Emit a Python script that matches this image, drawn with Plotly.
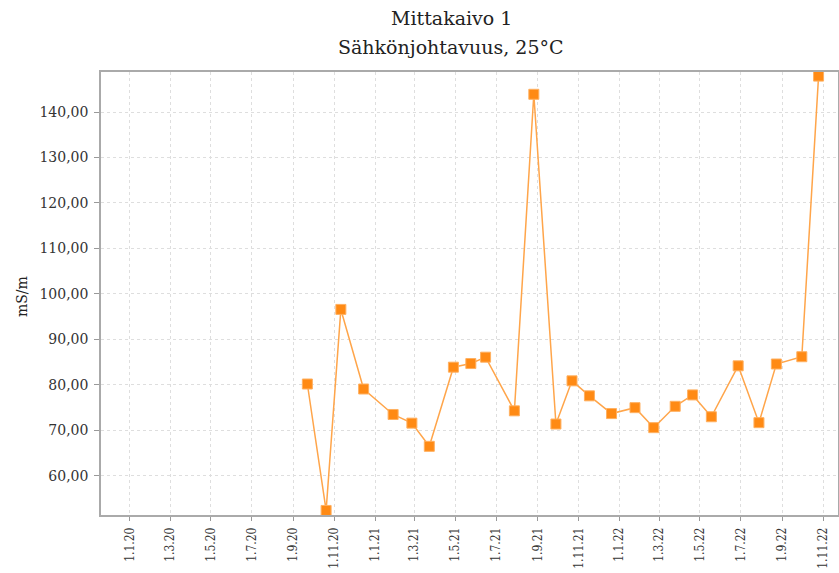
import plotly.graph_objects as go

dates = ["2020-09-22", "2020-10-20", "2020-11-11", "2020-12-15", "2021-01-28", "2021-02-25",
         "2021-03-23", "2021-04-28", "2021-05-24", "2021-06-15", "2021-07-28", "2021-08-26",
         "2021-09-28", "2021-10-22", "2021-11-17", "2021-12-20", "2022-01-24", "2022-02-21",
         "2022-03-25", "2022-04-20", "2022-05-18", "2022-06-27", "2022-07-28", "2022-08-23",
         "2022-09-30", "2022-10-25"]
values = [80.2, 52.4, 96.6, 79.1, 73.5, 71.6, 66.5, 83.9, 84.7, 86.1, 74.3, 143.9,
          71.4, 80.9, 77.6, 73.7, 75.0, 70.6, 75.3, 77.8, 73.0, 84.2, 71.7, 84.6, 86.2, 147.9]

title_line1 = "Mittakaivo 1"
title_line2 = "Sähkönjohtavuus, 25°C"
y_title = "mS/m"

W, H = 839, 573
L, R, T, B = 101, 1, 72, 58
pw = W - L - R
ph = H - T - B

fig = go.Figure()
fig.add_trace(go.Scatter(
    x=dates, y=values, mode="lines+markers",
    line=dict(color="#ffa54a", width=1.5),
    marker=dict(symbol="square", size=10, color="#ff8a14",
                line=dict(color="#ffb060", width=1)),
    showlegend=False,
))

title_font = dict(family="DejaVu Serif", size=19, color="#222222")
fig.add_annotation(text=title_line1, xref="paper", yref="paper",
                   x=(451 - L) / pw, y=1 + (T - 18) / ph, xanchor="center", yanchor="middle",
                   showarrow=False, font=title_font)
fig.add_annotation(text=title_line2, xref="paper", yref="paper",
                   x=(451 - L) / pw, y=1 + (T - 47) / ph, xanchor="center", yanchor="middle",
                   showarrow=False, font=title_font)
fig.add_annotation(text=y_title, xref="paper", yref="paper",
                   x=(22 - L) / pw, y=1 - (297 - T) / ph, xanchor="center", yanchor="middle",
                   textangle=-90, showarrow=False,
                   font=dict(family="DejaVu Serif", size=14, color="#222222"))

fig.update_layout(
    width=W, height=H,
    margin=dict(l=L, r=R, t=T, b=B, autoexpand=False),
    paper_bgcolor="white", plot_bgcolor="white",
    separators=", ",
    font=dict(family="DejaVu Serif", size=12, color="#333333"),
)
fig.update_xaxes(
    type="date",
    range=["2019-11-19", "2022-11-23"],
    tick0="2020-01-01", dtick="M2",
    tickformat="%-d.%-m.%y", tickangle=-90,
    showgrid=True, gridcolor="#dedede", griddash="3px,3px", gridwidth=1,
    showline=True, linecolor="#aaaaaa", linewidth=1.5, mirror=True,
    ticks="outside", ticklen=4, tickcolor="#999999",
    ticklabelstandoff=2,
    tickfont=dict(family="DejaVu Serif Condensed, DejaVu Serif", size=12, color="#333333"),
    zeroline=False, automargin=False,
)
fig.update_yaxes(
    range=[51.4, 148.8],
    tick0=60, dtick=10, tickformat=".2f",
    showgrid=True, gridcolor="#dedede", griddash="3px,3px", gridwidth=1,
    showline=True, linecolor="#aaaaaa", linewidth=1.5, mirror=True,
    ticks="outside", ticklen=5, tickcolor="#999999",
    ticklabelstandoff=3,
    tickfont=dict(family="DejaVu Serif", size=14, color="#333333"),
    zeroline=False, automargin=False,
)

fig.write_html("out.html", config={"displayModeBar": False},
               post_script="document.body.style.margin='0';")
